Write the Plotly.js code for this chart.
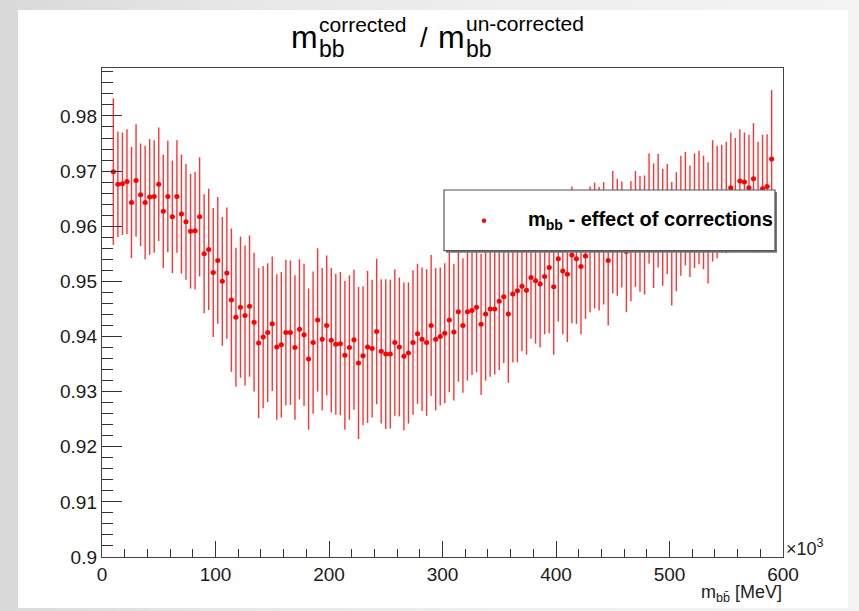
<!DOCTYPE html>
<html>
<head>
<meta charset="utf-8">
<script src="https://cdn.plot.ly/plotly-3.0.1.min.js"></script>
<style>
  html, body { margin:0; padding:0; width:859px; height:611px; overflow:hidden;
    background: linear-gradient(90deg, #d9d9d9 0%, #e6e6e6 25%, #efefef 60%, #f3f3f3 100%); }
  #chart { position:absolute; left:18px; top:10px; width:830px; height:598px; background:#fff; }
</style>
</head>
<body>
<div id="chart"></div>
<script>
// bin centres of m_bb (x 10^3 MeV)
const mbb = [
  10,14,18,22,26,30,34,38,42,46,
  50,54,58,62,66,70,74,78,82,86,
  90,94,98,102,106,110,114,118,122,126,
  130,134,138,142,146,150,154,158,162,166,
  170,174,178,182,186,190,194,198,202,206,
  210,214,218,222,226,230,234,238,242,246,
  250,254,258,262,266,270,274,278,282,286,
  290,294,298,302,306,310,314,318,322,326,
  330,334,338,342,346,350,354,358,362,366,
  370,374,378,382,386,390,394,398,402,406,
  410,414,418,422,426,430,434,438,442,446,
  450,454,458,462,466,470,474,478,482,486,
  490,494,498,502,506,510,514,518,522,526,
  530,534,538,542,546,550,554,558,562,566,
  570,574,578,582,586,590
];
// ratio m_bb corrected / un-corrected
const ratio = [
  0.9699,0.9676,0.9677,0.9681,0.9643,0.9683,0.9657,0.9643,0.9653,0.9654,
  0.9676,0.9627,0.9654,0.9617,0.9654,0.9622,0.9608,0.9591,0.9592,0.9617,
  0.9550,0.9558,0.9516,0.9538,0.9500,0.9515,0.9466,0.9435,0.9453,0.9438,
  0.9455,0.9426,0.9388,0.9399,0.9407,0.9423,0.9381,0.9385,0.9407,0.9407,
  0.9380,0.9413,0.9403,0.9359,0.9389,0.9430,0.9395,0.9420,0.9393,0.9386,
  0.9387,0.9366,0.9380,0.9394,0.9352,0.9365,0.9381,0.9378,0.9409,0.9373,
  0.9368,0.9368,0.9389,0.9381,0.9364,0.9370,0.9389,0.9405,0.9395,0.9389,
  0.9420,0.9395,0.9400,0.9406,0.9430,0.9408,0.9445,0.9420,0.9445,0.9447,
  0.9453,0.9422,0.9441,0.9450,0.9450,0.9464,0.9472,0.9441,0.9477,0.9483,
  0.9491,0.9484,0.9507,0.9501,0.9495,0.9509,0.9525,0.9490,0.9541,0.9519,
  0.9513,0.9548,0.9541,0.9527,0.9546,0.9558,0.9565,0.9559,0.9569,0.9538,
  0.9589,0.9580,0.9585,0.9554,0.9573,0.9595,0.9586,0.9584,0.9632,0.9601,
  0.9628,0.9598,0.9613,0.9568,0.9590,0.9619,0.9632,0.9609,0.9628,0.9634,
  0.9625,0.9606,0.9646,0.9644,0.9650,0.9652,0.9670,0.9660,0.9682,0.9680,
  0.9670,0.9686,0.9653,0.9668,0.9672,0.9722
];
// statistical error on ratio
const ratioErr = [
  0.0133,0.0096,0.0093,0.0095,0.0101,0.0102,0.0093,0.0103,0.0105,0.0102,
  0.0103,0.0103,0.0101,0.0102,0.0102,0.0108,0.0105,0.0104,0.0107,0.0108,
  0.0108,0.0110,0.0117,0.0115,0.0117,0.0119,0.0130,0.0126,0.0128,0.0127,
  0.0128,0.0126,0.0136,0.0129,0.0126,0.0122,0.0132,0.0132,0.0132,0.0131,
  0.0131,0.0127,0.0129,0.0128,0.0129,0.0130,0.0129,0.0127,0.0131,0.0128,
  0.0130,0.0135,0.0131,0.0127,0.0138,0.0126,0.0138,0.0125,0.0132,0.0131,
  0.0136,0.0135,0.0133,0.0126,0.0134,0.0128,0.0131,0.0127,0.0130,0.0133,
  0.0128,0.0129,0.0125,0.0127,0.0131,0.0124,0.0127,0.0122,0.0125,0.0117,
  0.0118,0.0128,0.0121,0.0123,0.0119,0.0125,0.0120,0.0125,0.0124,0.0130,
  0.0118,0.0117,0.0111,0.0114,0.0115,0.0105,0.0119,0.0123,0.0114,0.0115,
  0.0123,0.0124,0.0118,0.0123,0.0114,0.0114,0.0114,0.0112,0.0111,0.0118,
  0.0111,0.0106,0.0096,0.0110,0.0109,0.0105,0.0105,0.0108,0.0100,0.0113,
  0.0103,0.0106,0.0100,0.0112,0.0108,0.0109,0.0103,0.0101,0.0104,0.0103,
  0.0103,0.0110,0.0110,0.0102,0.0098,0.0101,0.0100,0.0100,0.0094,0.0090,
  0.0096,0.0101,0.0100,0.0098,0.0095,0.0125
];
const binHalfWidth = 2;
const legendLabel = "m<sub>bb</sub> - effect of corrections";
const xTitle = "m<sub>bb\u0304</sub> [MeV]";
const xRange = [0, 600];
const yRange = [0.9, 0.9887];

// plot frame on the page
const DIVTOP = 10, DIVLEFT = 18, DIVW = 830, DIVH = 598;
const FL = 102, FT = 68, FW = 681, FH = 489;
const font = "Liberation Sans, Arial, Helvetica, sans-serif";

function at(sx, sy) {
  return {xref:'paper', yref:'paper', x:0, y:1, xshift: sx - FL, yshift: FT - sy, showarrow:false};
}
function px(sx) { return (sx - FL) / FW; }
function py(sy) { return (FT + FH - sy) / FH; }

const trace = {
  type:'scatter', mode:'markers', x: mbb, y: ratio,
  marker:{color:'#ff0000', size:5, line:{width:0}},
  error_y:{type:'data', array: ratioErr, visible:true, color:'rgba(255,0,0,0.8)', thickness:1.4, width:0},
  error_x:{type:'constant', value: binHalfWidth, visible:true, color:'#ff0000', thickness:1.2, width:0},
  showlegend:false, hoverinfo:'skip'
};

const annotations = [
  Object.assign(at(304, 37), {text:'m', font:{family:font, size:32, color:'#000'}, xanchor:'center', yanchor:'middle'}),
  Object.assign(at(317, 24), {text:'corrected', font:{family:font, size:21, color:'#000'}, xanchor:'left', yanchor:'middle'}),
  Object.assign(at(317, 49), {text:'bb', font:{family:font, size:23, color:'#000'}, xanchor:'left', yanchor:'middle'}),
  Object.assign(at(424, 38), {text:'/', font:{family:font, size:27, color:'#000'}, xanchor:'center', yanchor:'middle'}),
  Object.assign(at(451, 37), {text:'m', font:{family:font, size:32, color:'#000'}, xanchor:'center', yanchor:'middle'}),
  Object.assign(at(464, 23), {text:'un-corrected', font:{family:font, size:21, color:'#000'}, xanchor:'left', yanchor:'middle'}),
  Object.assign(at(464, 49), {text:'bb', font:{family:font, size:23, color:'#000'}, xanchor:'left', yanchor:'middle'}),
  Object.assign(at(784, 547), {text:'\u00d710<sup>3</sup>', font:{family:font, size:18, color:'#222'}, xanchor:'left', yanchor:'middle'}),
  Object.assign(at(784, 593), {text: xTitle, font:{family:font, size:18, color:'#222'}, xanchor:'right', yanchor:'middle'}),
  Object.assign(at(526, 220), {text:'<b>' + legendLabel + '</b>', font:{family:font, size:20, color:'#000'}, xanchor:'left', yanchor:'middle'})
];

const shapes = [
  {type:'rect', xref:'paper', yref:'paper', x0:px(446), x1:px(777), y0:py(252.7), y1:py(192), line:{width:0}, fillcolor:'#777', layer:'above'},
  {type:'rect', xref:'paper', yref:'paper', x0:px(444), x1:px(775), y0:py(250.7), y1:py(190), line:{color:'#555', width:1.2}, fillcolor:'#ffffff', layer:'above'},
  {type:'circle', xref:'paper', yref:'paper', x0:px(481.8), x1:px(486.2), y0:py(222.9), y1:py(218.5), line:{width:0}, fillcolor:'#ff0000', layer:'above'}
];

const axisCommon = {
  showgrid:false, zeroline:false, showline:true, mirror:true, linecolor:'#444', linewidth:1.2,
  ticks:'inside', tickcolor:'#333', tickwidth:1,
  tickfont:{family:font, size:19, color:'#1a1a1a'}
};

const layout = {
  width:DIVW, height:DIVH,
  margin:{l:FL-DIVLEFT, r:DIVW-(FL-DIVLEFT)-FW, t:FT-DIVTOP, b:DIVH-(FT-DIVTOP)-FH},
  paper_bgcolor:'#ffffff', plot_bgcolor:'#ffffff',
  showlegend:false,
  xaxis: Object.assign({}, axisCommon, {range:xRange, dtick:100, tick0:0, ticklen:16,
    minor:{dtick:20, ticklen:8, ticks:'inside', tickcolor:'#333', showgrid:false}}),
  yaxis: Object.assign({}, axisCommon, {range:yRange, dtick:0.01, tick0:0.9, ticklen:20,
    minor:{dtick:0.002, ticklen:11, ticks:'inside', tickcolor:'#333', showgrid:false}}),
  annotations: annotations,
  shapes: shapes
};

Plotly.newPlot('chart', [trace], layout, {staticPlot:true, displayModeBar:false});
</script>
</body>
</html>
